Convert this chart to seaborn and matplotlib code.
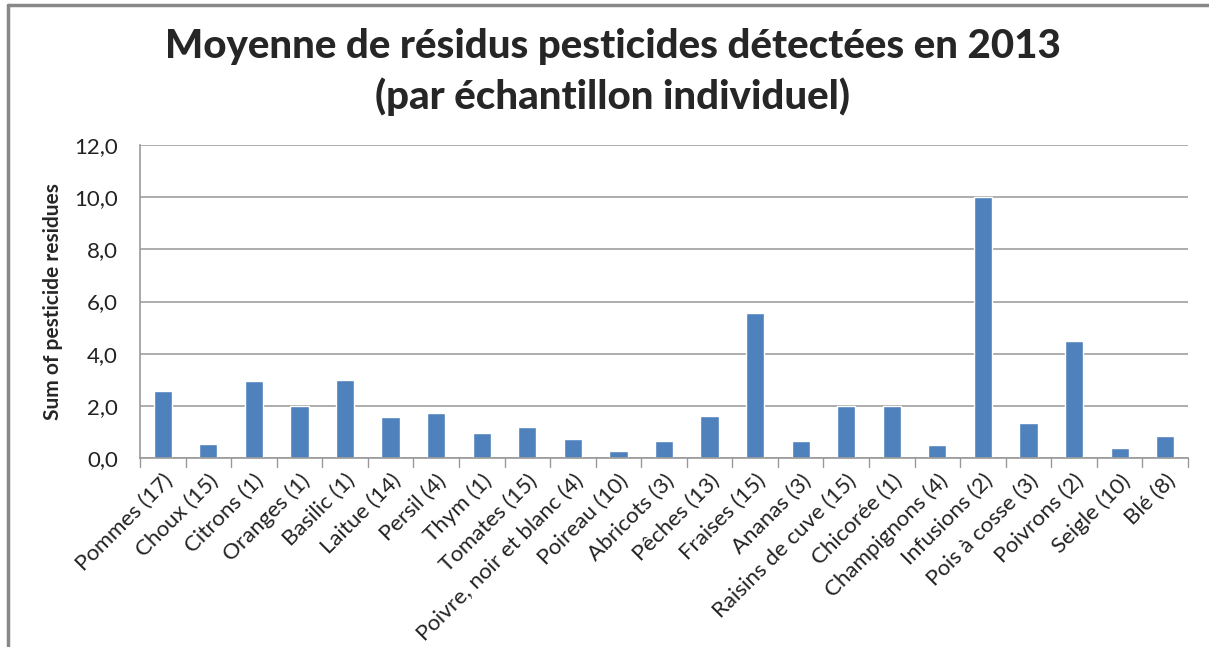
import matplotlib
matplotlib.use("Agg")
import matplotlib.pyplot as plt
import seaborn as sns
import pandas as pd
from matplotlib.lines import Line2D

# Chart data
categories = [
    "Pommes (17)", "Choux (15)", "Citrons (1)", "Oranges (1)", "Basilic (1)",
    "Laitue (14)", "Persil (4)", "Thym (1)", "Tomates (15)",
    "Poivre, noir et blanc (4)", "Poireau (10)", "Abricots (3)", "Pêches (13)",
    "Fraises (15)", "Ananas (3)", "Raisins de cuve (15)", "Chicorée (1)",
    "Champignons (4)", "Infusions (2)", "Pois à cosse (3)", "Poivrons (2)",
    "Seigle (10)", "Blé (8)",
]
residues = [
    2.56, 0.54, 2.97, 2.0, 2.98, 1.58, 1.73, 0.97, 1.17,
    0.73, 0.28, 0.65, 1.62, 5.55, 0.65, 2.0, 2.0,
    0.5, 10.0, 1.34, 4.5, 0.37, 0.85,
]
y_ticks = [0, 2, 4, 6, 8, 10, 12]

df = pd.DataFrame({"cat": categories, "val": residues})

sns.set_style("white")
plt.rcParams["font.family"] = ["Lato", "DejaVu Sans"]

fig = plt.figure(figsize=(12.09, 6.47), dpi=100)
ax = fig.add_axes([0.1158, 0.2921, 0.8668, 0.4838])

sns.barplot(data=df, x="cat", y="val", color="#4f81bd", width=0.4,
            saturation=1, ax=ax)

ax.set_ylim(0, 12)
ax.set_xlim(-0.5, len(categories) - 0.5)
ax.set_yticks(y_ticks)
ax.set_yticklabels([f"{v:.1f}".replace(".", ",") for v in y_ticks],
                   fontsize=16, color="#222222")
ax.yaxis.grid(True, color="#a0a0a0", linewidth=1.2)
ax.set_axisbelow(True)

# Excel-style category ticks between bars
ax.set_xticks(range(len(categories)))
ax.set_xticklabels(categories, rotation=45, ha="right", rotation_mode="anchor",
                   fontsize=16, color="#222222")
ax.tick_params(axis="x", length=0, pad=9)
for i in range(len(categories) + 1):
    ax.plot([i - 0.5, i - 0.5], [0, -0.028], transform=ax.get_xaxis_transform(),
            color="#999999", lw=1, clip_on=False)
ax.tick_params(axis="y", length=6, color="#999999", width=1, direction="out", pad=10)

for s in ["top", "right"]:
    ax.spines[s].set_visible(False)
for s in ["left", "bottom"]:
    ax.spines[s].set_color("#999999")
    ax.spines[s].set_linewidth(1.2)

ax.set_xlabel("")
ax.set_ylabel("Sum of pesticide residues", fontsize=15, fontweight="bold",
              labelpad=8)

fig.text(0.507, 0.928, "Moyenne de résidus pesticides détectées en 2013",
         ha="center", va="center", fontsize=29, fontweight="black")
fig.text(0.507, 0.851, "(par échantillon individuel)",
         ha="center", va="center", fontsize=29, fontweight="black")

# chart area border (top and left edges visible)
fig.add_artist(Line2D([8 / 1209, 1], [1 - 5 / 647, 1 - 5 / 647], color="#888888", lw=2.5))
fig.add_artist(Line2D([8 / 1209, 8 / 1209], [0, 1 - 5 / 647], color="#888888", lw=2.5))

fig.savefig("out.png", dpi=100)
